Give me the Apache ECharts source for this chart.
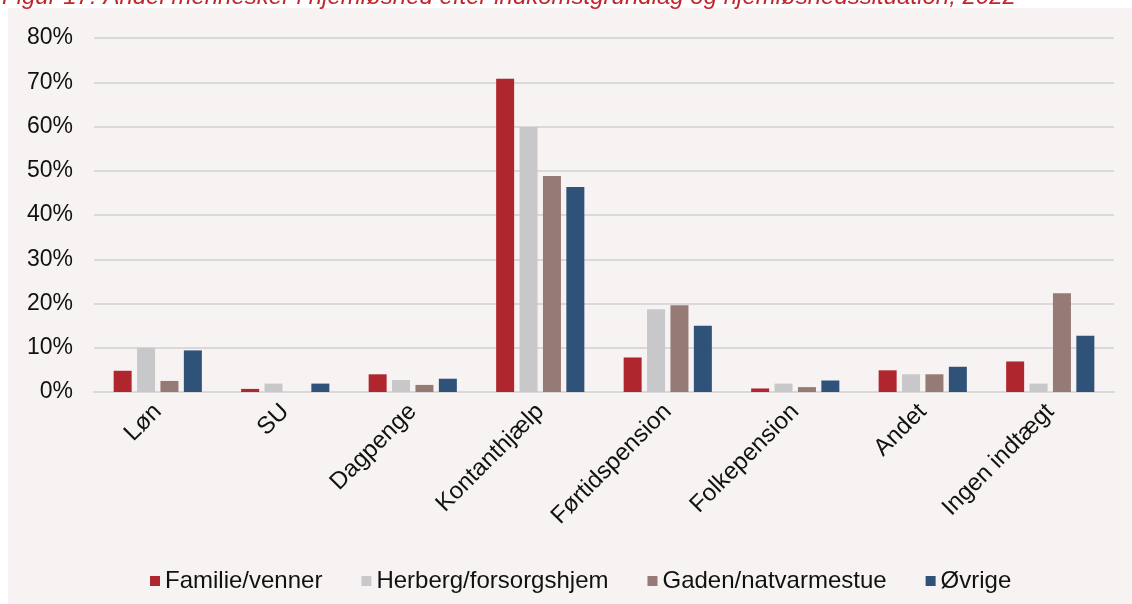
<!DOCTYPE html>
<html style="height: 100%">
<head>
<meta charset="utf-8">
<script src="https://cdn.jsdelivr.net/npm/echarts@6/dist/echarts.min.js"></script>
</head>
<body style="height: 100%; margin: 0; background: #fff">
<div id="container" style="width: 1132px; height: 604px"></div>
<script type="text/javascript">
var categories = ['Løn', 'SU', 'Dagpenge', 'Kontanthjælp', 'Førtidspension', 'Folkepension', 'Andet', 'Ingen indtægt'];
var familieVenner = [4.8, 0.7, 4.0, 70.8, 7.8, 0.8, 4.9, 6.9];
var herberg = [10.0, 1.9, 2.7, 59.9, 18.7, 1.9, 4.0, 1.9];
var gaden = [2.5, 0, 1.6, 48.8, 19.6, 1.1, 4.0, 22.3];
var oevrige = [9.4, 1.9, 3.0, 46.3, 15.0, 2.6, 5.7, 12.7];
var yTicks = [0, 10, 20, 30, 40, 50, 60, 70, 80];

var fontFamily = '"Liberation Sans", Arial, sans-serif';
var dom = document.getElementById('container');
var myChart = echarts.init(dom);

function bar(name, data, color) {
    return {
        name: name,
        type: 'bar',
        data: data,
        barWidth: 18,
        barGap: '30%',
        itemStyle: { color: color },
        animation: false
    };
}

var option = {
    backgroundColor: '#ffffff',
    textStyle: { fontFamily: fontFamily },
    graphic: [
        {
            type: 'rect',
            z: -10,
            silent: true,
            shape: { x: 8, y: 8, width: 1124, height: 596 },
            style: { fill: '#f7f3f2' }
        },
        {
            type: 'text',
            silent: true,
            style: {
                x: 2,
                y: 9,
                text: 'Figur 17: Andel mennesker i hjemløshed efter indkomstgrundlag og hjemløshedssituation, 2022',
                font: 'italic 24px ' + fontFamily,
                fill: '#c0272d',
                verticalAlign: 'bottom'
            }
        }
    ],
    legend: {
        left: 145,
        top: 564,
        icon: 'rect',
        itemWidth: 10,
        itemHeight: 10,
        itemGap: 39,
        textStyle: { fontSize: 24, color: '#111', fontFamily: fontFamily },
        data: ['Familie/venner', 'Herberg/forsorgshjem', 'Gaden/natvarmestue', 'Øvrige']
    },
    grid: { left: 94, right: 18, top: 38, bottom: 212 },
    xAxis: {
        type: 'category',
        data: categories,
        axisTick: { show: false },
        axisLine: { lineStyle: { color: '#d9d9d9', width: 2 } },
        axisLabel: {
            interval: 0,
            rotate: 45,
            margin: 16,
            fontSize: 24,
            color: '#111',
            fontFamily: fontFamily
        }
    },
    yAxis: {
        type: 'value',
        min: yTicks[0],
        max: yTicks[yTicks.length - 1],
        interval: 10,
        axisLine: { show: false },
        axisTick: { show: false },
        splitLine: { lineStyle: { color: '#d9d9d9', width: 2 } },
        axisLabel: {
            formatter: '{value}%',
            margin: 21,
            fontSize: 23,
            color: '#111',
            fontFamily: fontFamily
        }
    },
    series: [
        bar('Familie/venner', familieVenner, '#b0262f'),
        bar('Herberg/forsorgshjem', herberg, '#c8c8ca'),
        bar('Gaden/natvarmestue', gaden, '#967a75'),
        bar('Øvrige', oevrige, '#2e5278')
    ]
};

myChart.setOption(option, true);
</script>
</body>
</html>
